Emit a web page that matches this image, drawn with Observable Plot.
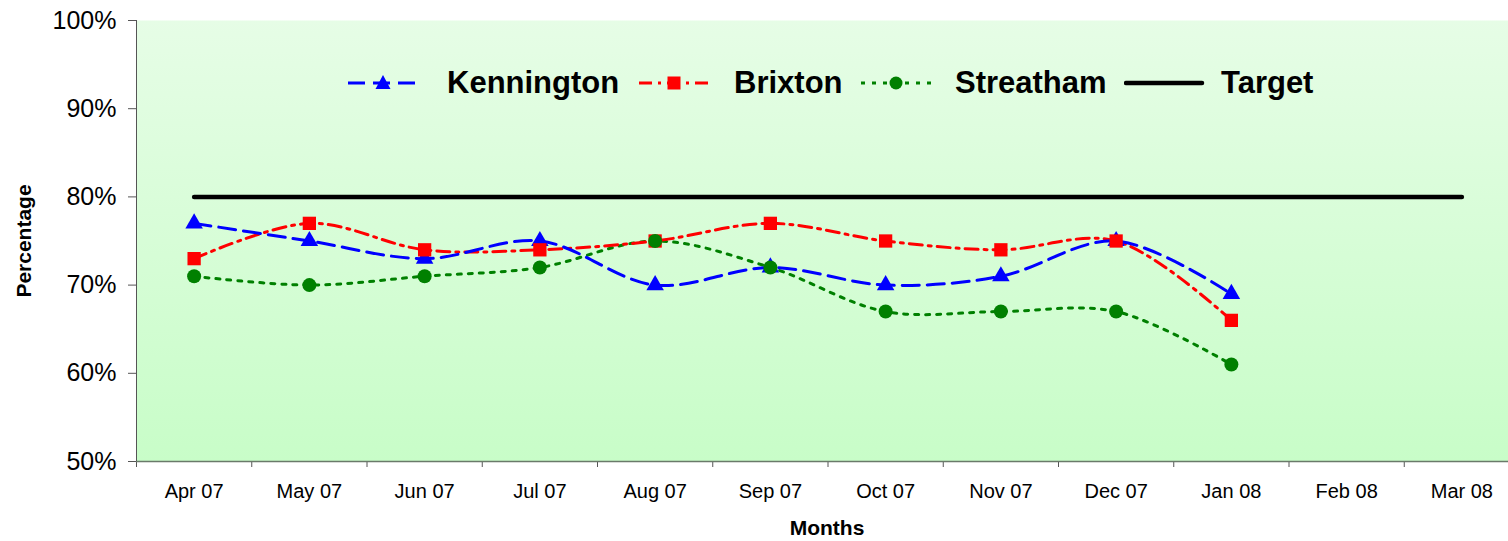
<!DOCTYPE html>
<html><head><meta charset="utf-8">
<script src="https://cdn.jsdelivr.net/npm/d3@7"></script>
<script src="https://cdn.jsdelivr.net/npm/@observablehq/plot@0.6"></script>
<style>
body{margin:0;background:#fff;font-family:Arial,"Liberation Sans",sans-serif}
#wrap{position:relative;width:1508px;height:541px;overflow:hidden}
#wrap > svg{position:absolute;left:0;top:0}
.lg{position:absolute;top:64px;height:38px;display:flex;align-items:center;font-weight:bold;font-size:31px;color:#000;white-space:nowrap}
#wrap .lg svg{position:static;flex-shrink:0;display:block}
.ttl{position:absolute;font-weight:bold;font-size:21px;color:#000;white-space:nowrap}
</style>
</head><body><div id="wrap"></div>
<script>
const months = ["Apr 07","May 07","Jun 07","Jul 07","Aug 07","Sep 07","Oct 07","Nov 07","Dec 07","Jan 08","Feb 08","Mar 08"];
const kennington = [77,75,73,75,70,72,70,71,75,69];
const brixton = [73,77,74,74,75,77,75,74,75,66];
const streatham = [71,70,71,72,75,72,67,67,67,61];
const target = [80,80,80,80,80,80,80,80,80,80,80,80];
const yTicks = [50,60,70,80,90,100];

const rows = (arr) => arr.map((v,i)=>({i, v}));
const kData = rows(kennington), bData = rows(brixton), sData = rows(streatham), tData = rows(target);
const boundaries = months.map((m,i)=>i-0.5).concat([months.length-0.5]);
const centers = months.map((m,i)=>i);

const defs = () => {
  const d = d3.create("svg:defs");
  const g = d.append("linearGradient").attr("id","bg").attr("x1",0).attr("y1",0).attr("x2",0).attr("y2",1);
  g.append("stop").attr("offset","0%").attr("stop-color","#e6fde6");
  g.append("stop").attr("offset","100%").attr("stop-color","#c8fdc8");
  return d.node();
};

const chart = Plot.plot({
  width:1508, height:541,
  marginLeft:136, marginRight:0, marginTop:20, marginBottom:80,
  style:{fontFamily:"Arial, 'Liberation Sans', sans-serif", background:"transparent", color:"#000", overflow:"visible"},
  x:{domain:[-0.5,11.5], range:[136,1519]},
  y:{domain:[50,100], range:[461,20]},
  marks:[
    defs,
    Plot.frame({fill:"url(#bg)", stroke:null}),
    Plot.axisY({ticks:yTicks, tickFormat:d=>d+"%", fontSize:25, tickSize:8, tickPadding:12, stroke:"#555", label:null}),
    Plot.axisX({ticks:boundaries, tickFormat:()=>"", tickSize:6, stroke:"#555", label:null}),
    Plot.axisX({ticks:centers, tickFormat:i=>months[i], tickSize:0, tickPadding:22, fontSize:20, label:null}),
    Plot.ruleY([50], {stroke:"#6a7a6a", strokeWidth:1.5}),
    Plot.ruleX([-0.5], {stroke:"#555", strokeWidth:1}),
    Plot.line(tData, {x:"i", y:"v", stroke:"#000", strokeWidth:4.5, strokeLinecap:"round"}),
    Plot.line(sData, {x:"i", y:"v", stroke:"#008000", strokeWidth:3, strokeDasharray:"4,7", curve:"catmull-rom"}),
    Plot.line(bData, {x:"i", y:"v", stroke:"#ff0000", strokeWidth:3, strokeDasharray:"13,6,3,6", curve:"catmull-rom"}),
    Plot.line(kData, {x:"i", y:"v", stroke:"#0000ff", strokeWidth:3, strokeDasharray:"17,8", curve:"catmull-rom"}),
    Plot.dot(kData, {x:"i", y:"v", symbol:"triangle", r:6.5, fill:"#0000ff", stroke:null}),
    Plot.dot(bData, {x:"i", y:"v", symbol:"square", r:7.5, fill:"#ff0000", stroke:null}),
    Plot.dot(sData, {x:"i", y:"v", symbol:"circle", r:7, fill:"#008000", stroke:null})
  ]
});
const wrap = document.getElementById("wrap");
wrap.appendChild(chart);

// legend (overlay)
const legendItems = [
  {name:"Kennington", color:"#0000ff", dash:"17,8", marker:"tri", left:344, text:447},
  {name:"Brixton", color:"#ff0000", dash:"13,6,3,6", marker:"sq", left:635, text:734},
  {name:"Streatham", color:"#008000", dash:"4,7", marker:"circ", left:857, text:955},
  {name:"Target", color:"#000", dash:null, marker:null, left:1124, text:1221}
];
legendItems.forEach(it=>{
  const w = it.text - it.left;
  const div = document.createElement("div");
  div.className = "lg";
  div.style.left = it.left + "px";
  const sw = 78;
  let mk = "";
  const cx = sw/2, cy = 19;
  if (it.marker==="tri") mk = `<path d="M${cx},${cy-8} L${cx+7.5},${cy+6} L${cx-7.5},${cy+6} Z" fill="${it.color}"/>`;
  if (it.marker==="sq") mk = `<rect x="${cx-6.5}" y="${cy-6.5}" width="13" height="13" fill="${it.color}"/>`;
  if (it.marker==="circ") mk = `<circle cx="${cx}" cy="${cy}" r="6.5" fill="${it.color}"/>`;
  const dashAttr = it.dash ? `stroke-dasharray="${it.dash}"` : "";
  const sWidth = it.dash ? 3 : 4.5;
  div.innerHTML = `<svg width="${w}" height="38"><line x1="${it.dash?4:2}" y1="${cy}" x2="${sw}" y2="${cy}" stroke="${it.color}" stroke-width="${sWidth}" stroke-linecap="${it.dash?'butt':'round'}" ${dashAttr}/>${mk}</svg><span>${it.name}</span>`;
  wrap.appendChild(div);
});

const t1 = document.createElement("div");
t1.className = "ttl"; t1.textContent = "Months";
t1.style.left = "827px"; t1.style.top = "528px"; t1.style.transform = "translate(-50%,-50%)";
wrap.appendChild(t1);
const t2 = document.createElement("div");
t2.className = "ttl"; t2.textContent = "Percentage";
t2.style.left = "24px"; t2.style.top = "241px"; t2.style.transform = "translate(-50%,-50%) rotate(-90deg)";
wrap.appendChild(t2);
</script>
</body></html>
